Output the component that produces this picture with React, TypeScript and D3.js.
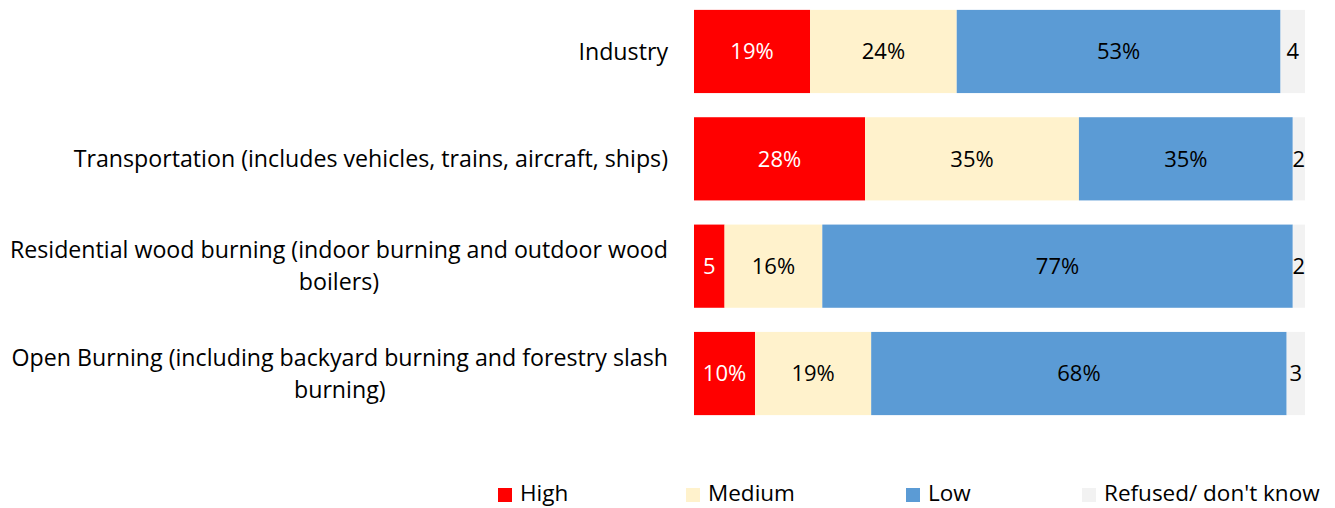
import React from "react";
import * as d3 from "d3";

const categories: string[][] = [
  ["Industry"],
  ["Transportation (includes vehicles, trains, aircraft, ships)"],
  ["Residential wood burning (indoor burning and outdoor wood", "boilers)"],
  ["Open Burning (including backyard burning and forestry slash", "burning)"],
];
const seriesNames = ["High", "Medium", "Low", "Refused/ don't know"];
const high = [19, 28, 5, 10];
const medium = [24, 35, 16, 19];
const low = [53, 35, 77, 68];
const refused = [4, 2, 2, 3];
const highLabels = ["19%", "28%", "5", "10%"];
const mediumLabels = ["24%", "35%", "16%", "19%"];
const lowLabels = ["53%", "35%", "77%", "68%"];
const refusedLabels = ["4", "2", "2", "3"];

const colors = ["#FF0000", "#FFF2CC", "#5B9BD5", "#F2F2F2"];
const labelColors = ["#FFFFFF", "#000000", "#000000", "#000000"];

const W = 1335;
const H = 508;
const FONT = "'Open Sans', sans-serif";
const CAT_SIZE = 23.2;
const VAL_SIZE = 22;
const LEG_SIZE = 22.5;

function measure(text: string, size: number): number {
  if (typeof document === "undefined") return text.length * size * 0.55;
  const c = document.createElement("canvas").getContext("2d");
  if (!c) return text.length * size * 0.55;
  c.font = `${size}px 'Open Sans', sans-serif`;
  return c.measureText(text).width;
}

export default function App() {
  const series = [high, medium, low, refused];
  const labels = [highLabels, mediumLabels, lowLabels, refusedLabels];
  const x = d3.scaleLinear().domain([0, 100]).range([694, 1305]);
  const y = d3
    .scaleBand<number>()
    .domain(d3.range(categories.length))
    .range([-3, 428])
    .paddingInner(0.225)
    .paddingOuter(0.12);
  const rows = categories.map((_, i) => {
    let acc = 0;
    return series.map((s, k) => {
      const x0 = acc;
      acc += s[i];
      return { k, x0, x1: acc, label: labels[k][i] };
    });
  });
  const legendX = [498, 686, 906, 1082];
  const labelRight = 668;
  return (
    <svg
      width={W}
      height={H}
      style={{ position: "absolute", left: 0, top: 0, background: "#fff" }}
      fontFamily={FONT}
    >
      {rows.map((segs, i) => {
        const y0 = y(i)!;
        const bh = y.bandwidth();
        const cy = y0 + bh / 2;
        const lines = categories[i];
        const lh = 32;
        const maxW = Math.max(...lines.map((l) => measure(l, CAT_SIZE)));
        const cx = labelRight - maxW / 2;
        return (
          <g key={i}>
            {lines.map((ln, j) => (
              <text
                key={j}
                x={cx}
                y={cy + (j - (lines.length - 1) / 2) * lh}
                dy="0.35em"
                textAnchor="middle"
                fontSize={CAT_SIZE}
                fill="#000"
              >
                {ln}
              </text>
            ))}
            {segs.map((s) => (
              <g key={s.k}>
                <rect
                  x={x(s.x0)}
                  y={y0}
                  width={x(s.x1) - x(s.x0)}
                  height={bh}
                  fill={colors[s.k]}
                />
                <text
                  x={(x(s.x0) + x(s.x1)) / 2}
                  y={cy}
                  dy="0.35em"
                  textAnchor="middle"
                  fontSize={VAL_SIZE}
                  fill={labelColors[s.k]}
                >
                  {s.label}
                </text>
              </g>
            ))}
          </g>
        );
      })}
      {seriesNames.map((n, k) => (
        <g key={n}>
          <rect x={legendX[k]} y={488} width={14} height={14} fill={colors[k]} />
          <text x={legendX[k] + 22} y={493} dy="0.35em" fontSize={LEG_SIZE} fill="#000">
            {n}
          </text>
        </g>
      ))}
    </svg>
  );
}
